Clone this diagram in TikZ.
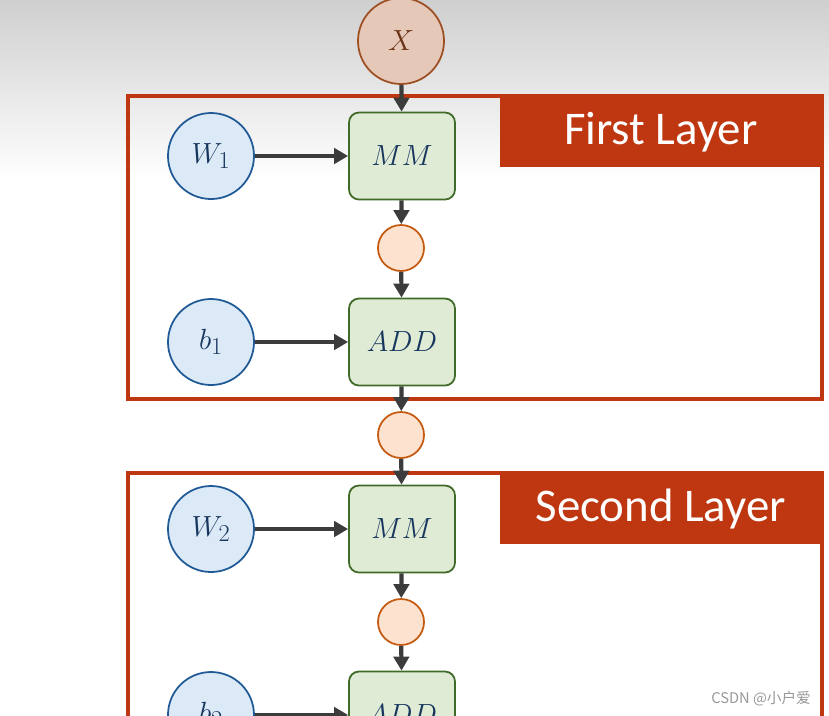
\documentclass[tikz,border=0pt]{standalone}
\usepackage{fontspec}
\usepackage{xcolor}
\usepackage{tikz}
\usetikzlibrary{arrows.meta}
\newfontfamily\tagfont{Carlito}
\newfontfamily\cjkfont{Noto Sans CJK SC}
\definecolor{NNRed}{HTML}{BE3711}
\definecolor{NNArrow}{HTML}{3C3C3C}
\definecolor{NNGray}{HTML}{CFCFCF}
\definecolor{NNInFill}{HTML}{E5C8B8}
\definecolor{NNInLine}{HTML}{9E4F22}
\definecolor{NNInInk}{HTML}{6B3416}
\definecolor{NNVarFill}{HTML}{DCE9F6}
\definecolor{NNVarLine}{HTML}{1F5A96}
\definecolor{NNInk}{HTML}{17365D}
\definecolor{NNOpFill}{HTML}{DFEBD5}
\definecolor{NNOpLine}{HTML}{3F6A28}
\definecolor{NNMidFill}{HTML}{FDE2D0}
\definecolor{NNMidLine}{HTML}{C55A11}

\begin{document}
\begin{tikzpicture}[x=0.03cm,y=0.03cm,
  inode/.style={circle,draw=NNInLine,fill=NNInFill,line width=1.5pt,minimum size=2.58cm,inner sep=0pt,text=NNInInk,font=\fontsize{30}{31}\selectfont},
  var/.style={circle,draw=NNVarLine,fill=NNVarFill,line width=1.5pt,minimum size=2.58cm,inner sep=0pt,text=NNInk,font=\fontsize{30}{31}\selectfont},
  opbox/.style={rectangle,rounded corners=0.3cm,draw=NNOpLine,fill=NNOpFill,line width=1.5pt,minimum width=3.18cm,minimum height=2.61cm,inner sep=0pt,text=NNInk,font=\fontsize{30}{31}\selectfont},
  mid/.style={circle,draw=NNMidLine,fill=NNMidFill,line width=1.5pt,minimum size=1.38cm,inner sep=0pt},
  frame/.style={draw=NNRed,line width=2.6pt},
  layertag/.style={rectangle,fill=NNRed,anchor=north east,minimum width=9.66cm,minimum height=2.13cm,inner sep=0pt,text=white,font=\tagfont\fontsize{40}{42}\selectfont},
  flow/.style={draw=NNArrow,line width=3.6pt,-{Triangle[length=0.42cm,width=0.46cm]}}]
\useasboundingbox (0,0) rectangle (829,-715);
\clip (0,0) rectangle (829,-715);
\fill[white] (0,0) rectangle (829,-715);
\shade[top color=NNGray,bottom color=white] (0,0) rectangle (829,-180);
% layer frames
\draw[frame] (128,-96) rectangle (822,-399);
\node[layertag] (tag1) at (822,-96) {First Layer};
\draw[frame] (128,-473) rectangle (822,-820);
\node[layertag] (tag2) at (822,-473) {Second Layer};
% first layer
\node[inode] (x) at (401,-41) {$X$};
\node[opbox] (mm1) at (402,-156) {$MM$};
\node[var] (w1) at (211,-156) {$W_1$};
\node[mid] (h1) at (401,-248) {};
\node[opbox] (add1) at (402,-342) {$ADD$};
\node[var] (b1) at (211,-342) {$b_1$};
\node[mid] (z1) at (401,-435) {};
% second layer
\node[opbox] (mm2) at (402,-529) {$MM$};
\node[var] (w2) at (211,-529) {$W_2$};
\node[mid] (h2) at (401,-622) {};
\node[opbox] (add2) at (402,-715) {$ADD$};
\node[var] (b2) at (211,-715) {$b_2$};
% connectors
\draw[flow] (x) -- (mm1);
\draw[flow] (w1) -- (mm1);
\draw[flow] (mm1) -- (h1);
\draw[flow] (h1) -- (add1);
\draw[flow] (b1) -- (add1);
\draw[flow] (add1) -- (z1);
\draw[flow] (z1) -- (mm2);
\draw[flow] (w2) -- (mm2);
\draw[flow] (mm2) -- (h2);
\draw[flow] (h2) -- (add2);
\draw[flow] (b2) -- (add2);
\node[anchor=east,text=gray!80,font=\cjkfont\fontsize{12.5}{14}\selectfont] (mark) at (815,-699) {CSDN @小户爱};
\end{tikzpicture}
\end{document}
